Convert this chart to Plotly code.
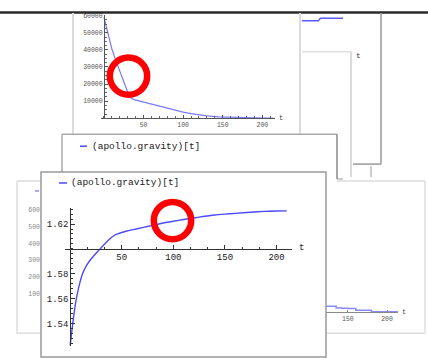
import plotly.graph_objects as go

W, H = 428, 358

# ---------------- data ----------------
# Front window: (apollo.gravity)[t]
grav_t = [0, 1.2, 2.5, 4, 6, 9, 12, 15.5, 19, 24, 29, 33, 36, 40, 44, 50, 55, 65,
          77, 88, 100, 110, 120, 130, 140, 150, 160, 175, 188, 200, 210]
grav_v = [1.5225, 1.531, 1.540, 1.5495, 1.560, 1.5715, 1.580, 1.5862, 1.5905, 1.5955,
          1.600, 1.6036, 1.6062, 1.6092, 1.6114, 1.6132, 1.6144, 1.6162, 1.6184,
          1.6204, 1.6222, 1.6236, 1.6249, 1.6262, 1.6273, 1.6280, 1.6286, 1.6295,
          1.6302, 1.6305, 1.6306]
grav_ticks = [1.54, 1.56, 1.58, 1.62]
t_ticks = [50, 100, 150, 200]

# Back window (top): decaying curve
mass_t = [0, 5, 10, 14, 18, 22, 26, 30, 33, 35, 38, 42, 50, 60, 70, 80, 90, 100, 110,
          120, 130, 145, 160, 175, 190, 205, 214]
mass_v = [59000, 49500, 40500, 35000, 30000, 24500, 19500, 15300, 12800, 11600, 10900,
          10400, 9700, 8500, 7200, 5900, 4700, 3600, 2700, 2000, 1400, 900, 600, 400,
          250, 150, 100]
mass_ticks = [10000, 20000, 30000, 40000, 50000, 60000]

# Lower-right window: tail of a curve
tail_t = [122, 130, 135, 142, 150, 160, 175, 180, 195, 214]
tail_v = [3500, 3450, 2400, 2300, 2250, 1150, 1100, 300, 250, 200]
tail_ticks = [150, 200]

# Top-right window: short visible segment
seg_t = [0, 16, 18, 40]
seg_v = [0, 0, 1, 1]

# Left window: tick labels only
left_ticks = [100, 200, 300, 400, 500, 600]

legend_label = "(apollo.gravity)[t]"

# ---------------- helpers ----------------
def fx(px):
    return px / W

def fy(py):
    return 1 - py / H

MONO = "Liberation Mono"
BLUE = "#4a4aff"

fig = go.Figure()

fig.add_trace(go.Scatter(x=mass_t, y=mass_v, xaxis="x2", yaxis="y2", mode="lines",
                         line=dict(color="#7a7aff", width=1.2), hoverinfo="skip"))
fig.add_trace(go.Scatter(x=tail_t, y=tail_v, xaxis="x3", yaxis="y3", mode="lines",
                         line=dict(color="#8a8aff", width=1.5, shape="hv"), hoverinfo="skip"))
fig.add_trace(go.Scatter(x=seg_t, y=seg_v, xaxis="x5", yaxis="y5", mode="lines",
                         line=dict(color="#5a5aff", width=1.5), hoverinfo="skip"))
fig.add_trace(go.Scatter(x=[], y=[], xaxis="x4", yaxis="y4", mode="lines", hoverinfo="skip"))
fig.add_trace(go.Scatter(x=grav_t, y=grav_v, xaxis="x", yaxis="y", mode="lines",
                         line=dict(color=BLUE, width=1.4, shape="spline", smoothing=0.6),
                         hoverinfo="skip"))

small_font = dict(family=MONO, size=6.5, color="#555")
main_font = dict(family=MONO, size=9, color="#1a1a1a")

layout = dict(
    width=W, height=H, margin=dict(l=0, r=0, t=0, b=0),
    paper_bgcolor="white", plot_bgcolor="rgba(0,0,0,0)", showlegend=False,
    # front chart
    xaxis=dict(domain=[fx(65), fx(292)], range=[-5, 215], anchor="free", position=fy(248),
               showline=True, linecolor="#333", linewidth=1, ticks="inside", ticklen=4,
               tickcolor="#333", tickvals=t_ticks, ticktext=[str(v) for v in t_ticks],
               tickfont=main_font, showgrid=False, zeroline=False,
               minor=dict(ticks="inside", ticklen=2, tickcolor="#333", tickmode="linear",
                          tick0=0, dtick=50 / 3, showgrid=False)),
    yaxis=dict(domain=[fy(346), fy(207)], range=[1.522, 1.633], anchor="free",
               position=fx(70.2), showline=True, linecolor="#333", linewidth=1,
               ticks="inside", ticklen=4, tickcolor="#333", tickvals=grav_ticks,
               ticktext=["%.2f" % v for v in grav_ticks], tickfont=main_font,
               showgrid=False, zeroline=False,
               minor=dict(ticks="inside", ticklen=2, tickcolor="#333", tickmode="linear",
                          tick0=1.52, dtick=0.004, showgrid=False)),
    # top back chart
    xaxis2=dict(domain=[fx(100.8), fx(275)], range=[-4, 216], anchor="free", position=fy(117),
                showline=True, linecolor="#555", linewidth=1, ticks="inside", ticklen=3,
                tickcolor="#555", tickvals=t_ticks, ticktext=[str(v) for v in t_ticks],
                tickfont=small_font, showgrid=False, zeroline=False,
                minor=dict(ticks="inside", ticklen=2, tickcolor="#666", tickmode="linear",
                           tick0=0, dtick=10, showgrid=False)),
    yaxis2=dict(domain=[fy(118), fy(13)], range=[-600, 60400], anchor="free",
                position=fx(104), showline=True, linecolor="#555", linewidth=1,
                ticks="inside", ticklen=3, tickcolor="#555", tickvals=mass_ticks,
                ticktext=[str(v) for v in mass_ticks], tickfont=small_font,
                showgrid=False, zeroline=False,
                minor=dict(ticks="inside", ticklen=2, tickcolor="#666", tickmode="linear",
                           tick0=0, dtick=2500, showgrid=False)),
    # lower-right chart
    xaxis3=dict(domain=[fx(326), fx(398)], range=[122, 214], anchor="free", position=fy(312),
                showline=True, linecolor="#888", linewidth=1.2, ticks="inside", ticklen=2,
                tickcolor="#888", tickvals=tail_ticks, ticktext=[str(v) for v in tail_ticks],
                tickfont=small_font, showgrid=False, zeroline=False),
    yaxis3=dict(domain=[fy(313), fy(263)], range=[-600, 28470], anchor="x3", visible=False),
    # left chart (labels only)
    xaxis4=dict(domain=[fx(45), fx(60)], anchor="y4", visible=False, range=[0, 1]),
    yaxis4=dict(domain=[fy(320), fy(200)], range=[-59.5, 654.8], anchor="free",
                position=fx(40), showline=False, ticks="", tickvals=left_ticks,
                ticktext=[str(v) for v in left_ticks],
                tickfont=dict(family=MONO, size=6.5, color="#888"),
                showgrid=False, zeroline=False),
    # top-right segment
    xaxis5=dict(domain=[fx(302), fx(343)], range=[0, 40], anchor="y5", visible=False),
    yaxis5=dict(domain=[fy(20), fy(15)], range=[-0.5, 1.5], anchor="x5", visible=False),
)
fig.update_layout(**layout)

shapes = []

def line(x0, y0, x1, y1, color, width=1.5):
    shapes.append(dict(type="line", xref="paper", yref="paper",
                       x0=fx(x0), y0=fy(y0), x1=fx(x1), y1=fy(y1),
                       line=dict(color=color, width=width)))

# top rule
line(0, 10.5, 428, 10.5, "#2a2a2a", 2.5)
# back windows
line(73, 11, 73, 133, "#dcdcdc", 2)
line(300, 11, 300, 133, "#dcdcdc", 2)
line(381, 11, 381, 163, "#999", 1.5)
line(302, 50, 351, 50, "#dedede", 1.5)
line(351, 50, 351, 176, "#d0d0d0", 1.5)
line(353, 163, 381, 163, "#999", 1.5)
line(371, 165, 371, 176, "#999", 1)
# middle window
line(62, 133, 337, 133, "#aaa", 1.5)
line(62, 133, 62, 171, "#aaa", 1.5)
line(337, 133, 337, 178, "#888", 1.5)
line(337, 178, 343, 178, "#999", 1)
# lower-right window
line(337, 180, 425, 180, "#dcdcdc", 1.5)
line(425, 180, 425, 333, "#dcdcdc", 1.5)
line(326, 333, 425, 333, "#dcdcdc", 1.5)
# left window
line(17, 180, 17, 333, "#dcdcdc", 1.5)
line(17, 180, 41, 180, "#dcdcdc", 1.5)
line(17, 333, 41, 333, "#dcdcdc", 1.5)
# front window
shapes.append(dict(type="rect", xref="paper", yref="paper",
                   x0=fx(41), y0=fy(357), x1=fx(326), y1=fy(171),
                   line=dict(color="#999", width=1.5)))
# legend samples
line(59, 182, 67, 182, BLUE, 1.5)
line(80, 145, 87, 145, BLUE, 1.5)
line(35, 190, 39, 190, "#8a8aff", 1.5)

# red circles
def ring(cx, cy, r):
    shapes.append(dict(type="circle", xref="paper", yref="paper",
                       x0=fx(cx - r), x1=fx(cx + r), y0=fy(cy + r), y1=fy(cy - r),
                       line=dict(color="#ff0000", width=6.5)))

ring(128.5, 74.5, 18.7)
ring(172.5, 219.8, 18.7)

fig.update_layout(shapes=shapes)

def text(px, py, s, size, color="#1a1a1a", xanchor="left"):
    fig.add_annotation(x=fx(px), y=fy(py), xref="paper", yref="paper", text=s,
                       showarrow=False, xanchor=xanchor, yanchor="middle",
                       font=dict(family=MONO, size=size, color=color))

text(69, 182, legend_label, 9.5)
text(90, 145, legend_label, 9.5)
text(301, 247, "t", 9, xanchor="center")
text(281, 117, "t", 7, "#444", xanchor="center")
text(404, 312, "t", 7, "#444", xanchor="center")
text(358, 54, "t", 8, "#333", xanchor="center")

fig.write_html("out.html", config={"displayModeBar": False},
               post_script="document.body.style.margin='0px';document.body.style.overflow='hidden';")
